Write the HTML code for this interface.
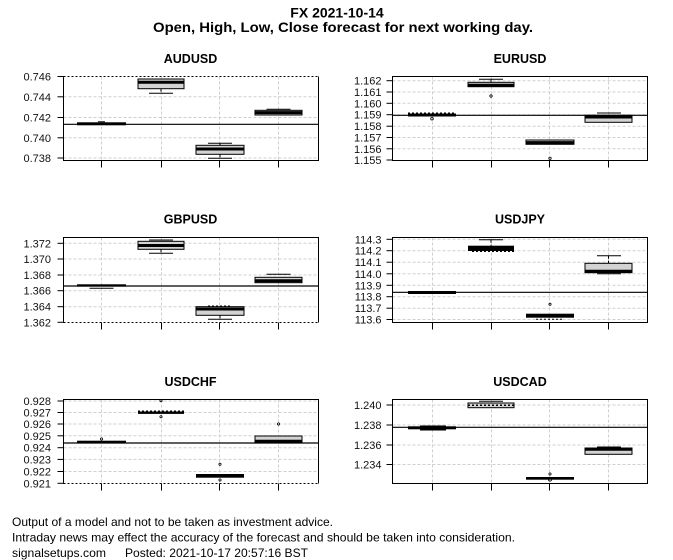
<!DOCTYPE html>
<html><head><meta charset="utf-8"><style>
html,body{margin:0;padding:0;background:#fff;}
svg{display:block;}
text{font-family:"Liberation Sans",Arial,sans-serif;fill:#000;}
.tl{font-size:11px;text-anchor:end;fill:#111;}
.pt{font-size:12.5px;font-weight:bold;text-anchor:middle;}
.g{stroke:#cfcfcf;stroke-width:1;stroke-dasharray:3 2;fill:none;}
.ax{stroke:#000;stroke-width:1;fill:none;}
.bx{fill:#d3d3d3;stroke:#000;stroke-width:1;}
.bk{fill:#000;stroke:none;}
.md{stroke:#000;stroke-width:3;}
.wk{stroke:#000;stroke-width:1;stroke-dasharray:3 2;}
.cp{stroke:#000;stroke-width:1;}
.o{fill:none;stroke:#000;stroke-width:0.8;}
.hl{stroke:#000;stroke-width:1.2;}
</style></head><body>
<svg width="673" height="560" viewBox="0 0 673 560" xmlns="http://www.w3.org/2000/svg">
<rect width="673" height="560" fill="#fff"/>
<!-- Main title -->
<text x="337" y="17.3" font-size="14" font-weight="bold" text-anchor="middle">FX 2021-10-14</text>
<text x="343" y="32" font-size="14" font-weight="bold" text-anchor="middle" textLength="380" lengthAdjust="spacingAndGlyphs">Open, High, Low, Close forecast for next working day.</text>

<!-- ============ AUDUSD ============ -->
<text class="pt" x="190.5" y="63">AUDUSD</text>
<g>
<line class="g" x1="101.5" y1="76.5" x2="101.5" y2="160.5"/><line class="g" x1="161.5" y1="76.5" x2="161.5" y2="160.5"/>
<line class="g" x1="219.5" y1="76.5" x2="219.5" y2="160.5"/><line class="g" x1="278.5" y1="76.5" x2="278.5" y2="160.5"/>
<line class="g" x1="63.5" y1="96.8" x2="318.5" y2="96.8"/><line class="g" x1="63.5" y1="117.5" x2="318.5" y2="117.5"/>
<line class="g" x1="63.5" y1="137.8" x2="318.5" y2="137.8"/><line class="g" x1="63.5" y1="158" x2="318.5" y2="158"/>
<line class="hl" x1="63.5" y1="124.3" x2="318.5" y2="124.3"/>
<rect class="bk" x="77" y="122.3" width="49" height="3"/>
<line class="cp" x1="98" y1="121.8" x2="105" y2="121.8"/>
<line class="wk" x1="161" y1="88.7" x2="161" y2="93.3"/><line class="cp" x1="149" y1="93.3" x2="173" y2="93.3"/>
<rect class="bx" x="138" y="79" width="46" height="9.7"/><line class="md" x1="138" y1="82.3" x2="184" y2="82.3"/>
<line class="wk" x1="220" y1="143.3" x2="220" y2="145.3"/><line class="wk" x1="220" y1="154.3" x2="220" y2="158.3"/>
<line class="cp" x1="208" y1="143.3" x2="232" y2="143.3"/><line class="cp" x1="208" y1="158.3" x2="232" y2="158.3"/>
<rect class="bx" x="196" y="145.3" width="48" height="9"/><line class="md" x1="196" y1="149" x2="244" y2="149"/>
<line class="cp" x1="266.5" y1="109.3" x2="290.5" y2="109.3"/>
<rect class="bx" x="255" y="110.3" width="47" height="4.7"/><line class="md" x1="255" y1="112.6" x2="302" y2="112.6"/>
<rect class="ax" x="63.5" y="76.5" width="255" height="84"/>
<line x1="63.5" y1="76.5" x2="318.5" y2="76.5" stroke="#fff" stroke-width="1.2"/>
<line x1="63.5" y1="76.5" x2="318.5" y2="76.5" stroke="#000" stroke-dasharray="2 2"/>
<line class="ax" x1="57.5" y1="76.5" x2="63.5" y2="76.5"/><line class="ax" x1="57.5" y1="96.8" x2="63.5" y2="96.8"/>
<line class="ax" x1="57.5" y1="117.5" x2="63.5" y2="117.5"/><line class="ax" x1="57.5" y1="137.8" x2="63.5" y2="137.8"/>
<line class="ax" x1="57.5" y1="158" x2="63.5" y2="158"/>
<line class="ax" x1="101.5" y1="160.5" x2="101.5" y2="167.5"/><line class="ax" x1="161.5" y1="160.5" x2="161.5" y2="167.5"/>
<line class="ax" x1="219.5" y1="160.5" x2="219.5" y2="167.5"/><line class="ax" x1="278.5" y1="160.5" x2="278.5" y2="167.5"/>
<text class="tl" x="51" y="80.5">0.746</text><text class="tl" x="51" y="100.8">0.744</text>
<text class="tl" x="51" y="121.5">0.742</text><text class="tl" x="51" y="141.8">0.740</text>
<text class="tl" x="51" y="162">0.738</text>
</g>

<!-- ============ EURUSD ============ -->
<text class="pt" x="520" y="63">EURUSD</text>
<g>
<line class="g" x1="432.5" y1="76.5" x2="432.5" y2="160.5"/><line class="g" x1="491.5" y1="76.5" x2="491.5" y2="160.5"/>
<line class="g" x1="549.5" y1="76.5" x2="549.5" y2="160.5"/><line class="g" x1="608.5" y1="76.5" x2="608.5" y2="160.5"/>
<line class="g" x1="392.5" y1="80.7" x2="647.5" y2="80.7"/><line class="g" x1="392.5" y1="92" x2="647.5" y2="92"/>
<line class="g" x1="392.5" y1="103.3" x2="647.5" y2="103.3"/><line class="g" x1="392.5" y1="114.7" x2="647.5" y2="114.7"/>
<line class="g" x1="392.5" y1="126.2" x2="647.5" y2="126.2"/><line class="g" x1="392.5" y1="137.5" x2="647.5" y2="137.5"/>
<line class="g" x1="392.5" y1="148.8" x2="647.5" y2="148.8"/>
<line class="hl" x1="392.5" y1="115.3" x2="647.5" y2="115.3"/>
<rect class="bk" x="408" y="113.5" width="48" height="3"/>
<line x1="408" y1="113" x2="456" y2="113" stroke="#000" stroke-dasharray="2 2"/>
<circle class="o" cx="432" cy="118.7" r="1.3"/>
<line class="wk" x1="491" y1="79.3" x2="491" y2="82.3"/><line class="cp" x1="479" y1="79.3" x2="503" y2="79.3"/>
<rect class="bx" x="468" y="82.3" width="46" height="4.4"/><line class="md" x1="468" y1="85.2" x2="514" y2="85.2"/>
<circle class="o" cx="491" cy="96" r="1.2"/>
<rect class="bx" x="526" y="140" width="48" height="4.3"/><line class="md" x1="526" y1="142.6" x2="574" y2="142.6"/>
<circle class="o" cx="550" cy="158.3" r="1.2"/>
<line class="cp" x1="597" y1="113" x2="621" y2="113"/>
<rect class="bx" x="585" y="115.3" width="47" height="7"/><line class="md" x1="585" y1="117" x2="632" y2="117"/>
<rect class="ax" x="392.5" y="76.5" width="255" height="84"/>
<line class="ax" x1="386.5" y1="80.7" x2="392.5" y2="80.7"/><line class="ax" x1="386.5" y1="92" x2="392.5" y2="92"/>
<line class="ax" x1="386.5" y1="103.3" x2="392.5" y2="103.3"/><line class="ax" x1="386.5" y1="114.7" x2="392.5" y2="114.7"/>
<line class="ax" x1="386.5" y1="126.2" x2="392.5" y2="126.2"/><line class="ax" x1="386.5" y1="137.5" x2="392.5" y2="137.5"/>
<line class="ax" x1="386.5" y1="148.8" x2="392.5" y2="148.8"/><line class="ax" x1="386.5" y1="160" x2="392.5" y2="160"/>
<line class="ax" x1="432.5" y1="160.5" x2="432.5" y2="167.5"/><line class="ax" x1="491.5" y1="160.5" x2="491.5" y2="167.5"/>
<line class="ax" x1="549.5" y1="160.5" x2="549.5" y2="167.5"/><line class="ax" x1="608.5" y1="160.5" x2="608.5" y2="167.5"/>
<text class="tl" x="381.5" y="84.7">1.162</text><text class="tl" x="381.5" y="96">1.161</text>
<text class="tl" x="381.5" y="107.3">1.160</text><text class="tl" x="381.5" y="118.7">1.159</text>
<text class="tl" x="381.5" y="130.2">1.158</text><text class="tl" x="381.5" y="141.5">1.157</text>
<text class="tl" x="381.5" y="152.8">1.156</text><text class="tl" x="381.5" y="164">1.155</text>
</g>

<!-- ============ GBPUSD ============ -->
<text class="pt" x="190.5" y="223.5">GBPUSD</text>
<g>
<line class="g" x1="101.5" y1="237.5" x2="101.5" y2="322.5"/><line class="g" x1="161.5" y1="237.5" x2="161.5" y2="322.5"/>
<line class="g" x1="219.5" y1="237.5" x2="219.5" y2="322.5"/><line class="g" x1="278.5" y1="237.5" x2="278.5" y2="322.5"/>
<line class="g" x1="63.5" y1="243.3" x2="318.5" y2="243.3"/><line class="g" x1="63.5" y1="259" x2="318.5" y2="259"/>
<line class="g" x1="63.5" y1="275" x2="318.5" y2="275"/><line class="g" x1="63.5" y1="290.7" x2="318.5" y2="290.7"/>
<line class="g" x1="63.5" y1="306.7" x2="318.5" y2="306.7"/>
<line class="hl" x1="63.5" y1="286" x2="318.5" y2="286"/>
<rect class="bk" x="77" y="284.3" width="49" height="2.3"/>
<line class="cp" x1="89.5" y1="288.3" x2="113.5" y2="288.3"/>
<line class="cp" x1="149" y1="240" x2="173" y2="240"/><line class="wk" x1="161" y1="249.3" x2="161" y2="253.3"/>
<line class="cp" x1="149" y1="253.3" x2="173" y2="253.3"/>
<rect class="bx" x="138" y="241.3" width="46" height="8"/><line class="md" x1="138" y1="245.5" x2="184" y2="245.5"/>
<line x1="208" y1="306" x2="232" y2="306" stroke="#000" stroke-dasharray="2 2"/>
<line class="wk" x1="220" y1="315.3" x2="220" y2="319.3"/><line class="cp" x1="208" y1="319.3" x2="232" y2="319.3"/>
<rect class="bx" x="196" y="306.7" width="48" height="8.6"/><line class="md" x1="196" y1="309" x2="244" y2="309"/>
<line class="cp" x1="266.5" y1="274.3" x2="290.5" y2="274.3"/>
<rect class="bx" x="255" y="277.3" width="47" height="5.4"/><line class="md" x1="255" y1="280.8" x2="302" y2="280.8"/>
<rect class="ax" x="63.5" y="237.5" width="255" height="85"/>
<line x1="63.5" y1="322.5" x2="318.5" y2="322.5" stroke="#fff" stroke-width="1.2"/>
<line x1="63.5" y1="322.5" x2="318.5" y2="322.5" stroke="#000" stroke-dasharray="2 2"/>
<line class="ax" x1="57.5" y1="243.3" x2="63.5" y2="243.3"/><line class="ax" x1="57.5" y1="259" x2="63.5" y2="259"/>
<line class="ax" x1="57.5" y1="275" x2="63.5" y2="275"/><line class="ax" x1="57.5" y1="290.7" x2="63.5" y2="290.7"/>
<line class="ax" x1="57.5" y1="306.7" x2="63.5" y2="306.7"/><line class="ax" x1="57.5" y1="322.3" x2="63.5" y2="322.3"/>
<line class="ax" x1="101.5" y1="322.5" x2="101.5" y2="329.5"/><line class="ax" x1="161.5" y1="322.5" x2="161.5" y2="329.5"/>
<line class="ax" x1="219.5" y1="322.5" x2="219.5" y2="329.5"/><line class="ax" x1="278.5" y1="322.5" x2="278.5" y2="329.5"/>
<text class="tl" x="51" y="247.3">1.372</text><text class="tl" x="51" y="263">1.370</text>
<text class="tl" x="51" y="279">1.368</text><text class="tl" x="51" y="294.7">1.366</text>
<text class="tl" x="51" y="310.7">1.364</text><text class="tl" x="51" y="326.3">1.362</text>
</g>

<!-- ============ USDJPY ============ -->
<text class="pt" x="520" y="223.5">USDJPY</text>
<g>
<line class="g" x1="432.5" y1="237.5" x2="432.5" y2="322.5"/><line class="g" x1="491.5" y1="237.5" x2="491.5" y2="322.5"/>
<line class="g" x1="549.5" y1="237.5" x2="549.5" y2="322.5"/><line class="g" x1="608.5" y1="237.5" x2="608.5" y2="322.5"/>
<line class="g" x1="392.5" y1="239.3" x2="647.5" y2="239.3"/><line class="g" x1="392.5" y1="250.7" x2="647.5" y2="250.7"/>
<line class="g" x1="392.5" y1="262.2" x2="647.5" y2="262.2"/><line class="g" x1="392.5" y1="273.8" x2="647.5" y2="273.8"/>
<line class="g" x1="392.5" y1="285.3" x2="647.5" y2="285.3"/><line class="g" x1="392.5" y1="296.7" x2="647.5" y2="296.7"/>
<line class="g" x1="392.5" y1="308.2" x2="647.5" y2="308.2"/><line class="g" x1="392.5" y1="319.5" x2="647.5" y2="319.5"/>
<line class="hl" x1="392.5" y1="292.3" x2="647.5" y2="292.3"/>
<rect class="bk" x="408" y="291" width="48" height="3"/>
<line class="cp" x1="479" y1="239.7" x2="503" y2="239.7"/><line class="wk" x1="491" y1="239.7" x2="491" y2="245.7"/>
<rect class="bk" x="468" y="245.7" width="46" height="5.3"/>
<line x1="472" y1="251.5" x2="514" y2="251.5" stroke="#000" stroke-dasharray="2 2"/>
<circle class="o" cx="550" cy="304.3" r="1.1"/>
<rect class="bk" x="526" y="313.7" width="48" height="4"/>
<line x1="536" y1="319.3" x2="564" y2="319.3" stroke="#000" stroke-dasharray="2 2"/>
<line class="cp" x1="597" y1="255.7" x2="621" y2="255.7"/><line class="wk" x1="608.5" y1="255.7" x2="608.5" y2="263.3"/>
<rect class="bx" x="585" y="263.3" width="47" height="9.4"/><line class="md" x1="585" y1="271.2" x2="632" y2="271.2"/>
<line class="cp" x1="597" y1="273.7" x2="621" y2="273.7"/>
<rect class="ax" x="392.5" y="237.5" width="255" height="85"/>
<line class="ax" x1="386.5" y1="239.3" x2="392.5" y2="239.3"/><line class="ax" x1="386.5" y1="250.7" x2="392.5" y2="250.7"/>
<line class="ax" x1="386.5" y1="262.2" x2="392.5" y2="262.2"/><line class="ax" x1="386.5" y1="273.8" x2="392.5" y2="273.8"/>
<line class="ax" x1="386.5" y1="285.3" x2="392.5" y2="285.3"/><line class="ax" x1="386.5" y1="296.7" x2="392.5" y2="296.7"/>
<line class="ax" x1="386.5" y1="308.2" x2="392.5" y2="308.2"/><line class="ax" x1="386.5" y1="319.5" x2="392.5" y2="319.5"/>
<line class="ax" x1="432.5" y1="322.5" x2="432.5" y2="329.5"/><line class="ax" x1="491.5" y1="322.5" x2="491.5" y2="329.5"/>
<line class="ax" x1="549.5" y1="322.5" x2="549.5" y2="329.5"/><line class="ax" x1="608.5" y1="322.5" x2="608.5" y2="329.5"/>
<text class="tl" x="381.5" y="243.3">114.3</text><text class="tl" x="381.5" y="254.7">114.2</text>
<text class="tl" x="381.5" y="266.2">114.1</text><text class="tl" x="381.5" y="277.8">114.0</text>
<text class="tl" x="381.5" y="289.3">113.9</text><text class="tl" x="381.5" y="300.7">113.8</text>
<text class="tl" x="381.5" y="312.2">113.7</text><text class="tl" x="381.5" y="323.5">113.6</text>
</g>

<!-- ============ USDCHF ============ -->
<text class="pt" x="190.5" y="386">USDCHF</text>
<g>
<line class="g" x1="101.5" y1="399.5" x2="101.5" y2="483.5"/><line class="g" x1="161.5" y1="399.5" x2="161.5" y2="483.5"/>
<line class="g" x1="219.5" y1="399.5" x2="219.5" y2="483.5"/><line class="g" x1="278.5" y1="399.5" x2="278.5" y2="483.5"/>
<line class="g" x1="63.5" y1="401" x2="318.5" y2="401"/><line class="g" x1="63.5" y1="412.5" x2="318.5" y2="412.5"/>
<line class="g" x1="63.5" y1="424" x2="318.5" y2="424"/><line class="g" x1="63.5" y1="435.8" x2="318.5" y2="435.8"/>
<line class="g" x1="63.5" y1="447.7" x2="318.5" y2="447.7"/><line class="g" x1="63.5" y1="459.4" x2="318.5" y2="459.4"/>
<line class="g" x1="63.5" y1="471.5" x2="318.5" y2="471.5"/>
<line class="hl" x1="63.5" y1="443" x2="318.5" y2="443"/>
<rect class="bk" x="77" y="440.7" width="49" height="2.3"/>
<circle class="o" cx="101.5" cy="439" r="1.1"/>
<rect class="bk" x="138" y="411.5" width="46" height="2.4"/>
<line x1="138" y1="411" x2="184" y2="411" stroke="#000" stroke-dasharray="2 2"/>
<circle class="o" cx="161" cy="400.7" r="1.1"/><circle class="o" cx="161" cy="416.7" r="1.1"/>
<rect class="bk" x="196" y="474" width="48" height="3.7"/>
<circle class="o" cx="220" cy="464.3" r="1.1"/><circle class="o" cx="220" cy="480" r="1.1"/>
<rect class="bx" x="255" y="436" width="47" height="7"/><line class="md" x1="255" y1="441.3" x2="302" y2="441.3"/>
<circle class="o" cx="278.5" cy="424" r="1.1"/>
<rect class="ax" x="63.5" y="399.5" width="255" height="84"/>
<line x1="63.5" y1="483.5" x2="318.5" y2="483.5" stroke="#fff" stroke-width="1.2"/>
<line x1="63.5" y1="483.5" x2="318.5" y2="483.5" stroke="#000" stroke-dasharray="2 2"/>
<line class="ax" x1="57.5" y1="401" x2="63.5" y2="401"/><line class="ax" x1="57.5" y1="412.5" x2="63.5" y2="412.5"/>
<line class="ax" x1="57.5" y1="424" x2="63.5" y2="424"/><line class="ax" x1="57.5" y1="435.8" x2="63.5" y2="435.8"/>
<line class="ax" x1="57.5" y1="447.7" x2="63.5" y2="447.7"/><line class="ax" x1="57.5" y1="459.4" x2="63.5" y2="459.4"/>
<line class="ax" x1="57.5" y1="471.5" x2="63.5" y2="471.5"/><line class="ax" x1="57.5" y1="483.3" x2="63.5" y2="483.3"/>
<line class="ax" x1="101.5" y1="483.5" x2="101.5" y2="490.5"/><line class="ax" x1="161.5" y1="483.5" x2="161.5" y2="490.5"/>
<line class="ax" x1="219.5" y1="483.5" x2="219.5" y2="490.5"/><line class="ax" x1="278.5" y1="483.5" x2="278.5" y2="490.5"/>
<text class="tl" x="51" y="405">0.928</text><text class="tl" x="51" y="416.5">0.927</text>
<text class="tl" x="51" y="428">0.926</text><text class="tl" x="51" y="439.8">0.925</text>
<text class="tl" x="51" y="451.7">0.924</text><text class="tl" x="51" y="463.4">0.923</text>
<text class="tl" x="51" y="475.5">0.922</text><text class="tl" x="51" y="487.3">0.921</text>
</g>

<!-- ============ USDCAD ============ -->
<text class="pt" x="520" y="386">USDCAD</text>
<g>
<line class="g" x1="432.5" y1="399.5" x2="432.5" y2="483.5"/><line class="g" x1="491.5" y1="399.5" x2="491.5" y2="483.5"/>
<line class="g" x1="549.5" y1="399.5" x2="549.5" y2="483.5"/><line class="g" x1="608.5" y1="399.5" x2="608.5" y2="483.5"/>
<line class="g" x1="392.5" y1="405" x2="647.5" y2="405"/><line class="g" x1="392.5" y1="425" x2="647.5" y2="425"/>
<line class="g" x1="392.5" y1="445" x2="647.5" y2="445"/><line class="g" x1="392.5" y1="464.5" x2="647.5" y2="464.5"/>
<line class="hl" x1="392.5" y1="427.3" x2="647.5" y2="427.3"/>
<rect class="bk" x="408" y="426.3" width="48" height="3"/><rect class="bk" x="420" y="425.5" width="26" height="5"/>
<line class="cp" x1="479" y1="401.3" x2="503" y2="401.3"/>
<rect class="bx" x="468" y="403" width="46" height="4.7"/>
<line x1="468" y1="405.3" x2="514" y2="405.3" stroke="#000" stroke-width="1.5" stroke-dasharray="2 2"/>
<rect class="bk" x="526" y="477" width="48" height="2.7"/>
<circle class="o" cx="550" cy="474" r="1.1"/><circle class="o" cx="550" cy="479.5" r="1.6" fill="#fff"/>
<line class="cp" x1="597" y1="447" x2="621" y2="447"/>
<rect class="bx" x="585" y="448" width="47" height="6.3"/><line class="md" x1="585" y1="449.3" x2="632" y2="449.3"/>
<rect class="ax" x="392.5" y="399.5" width="255" height="84"/>
<line class="ax" x1="386.5" y1="405" x2="392.5" y2="405"/><line class="ax" x1="386.5" y1="425" x2="392.5" y2="425"/>
<line class="ax" x1="386.5" y1="445" x2="392.5" y2="445"/><line class="ax" x1="386.5" y1="464.5" x2="392.5" y2="464.5"/>
<line class="ax" x1="432.5" y1="483.5" x2="432.5" y2="490.5"/><line class="ax" x1="491.5" y1="483.5" x2="491.5" y2="490.5"/>
<line class="ax" x1="549.5" y1="483.5" x2="549.5" y2="490.5"/><line class="ax" x1="608.5" y1="483.5" x2="608.5" y2="490.5"/>
<text class="tl" x="381.5" y="409">1.240</text><text class="tl" x="381.5" y="429">1.238</text>
<text class="tl" x="381.5" y="449">1.236</text><text class="tl" x="381.5" y="468.5">1.234</text>
</g>

<!-- Footer -->
<text x="12" y="526" font-size="12" textLength="321" lengthAdjust="spacingAndGlyphs">Output of a model and not to be taken as investment advice.</text>
<text x="12" y="541.5" font-size="12" textLength="503" lengthAdjust="spacingAndGlyphs">Intraday news may effect the accuracy of the forecast and should be taken into consideration.</text>
<text x="12" y="557" font-size="12" textLength="94" lengthAdjust="spacingAndGlyphs">signalsetups.com</text>
<text x="125" y="557" font-size="12" textLength="183" lengthAdjust="spacingAndGlyphs">Posted: 2021-10-17 20:57:16 BST</text>
</svg>
</body></html>
